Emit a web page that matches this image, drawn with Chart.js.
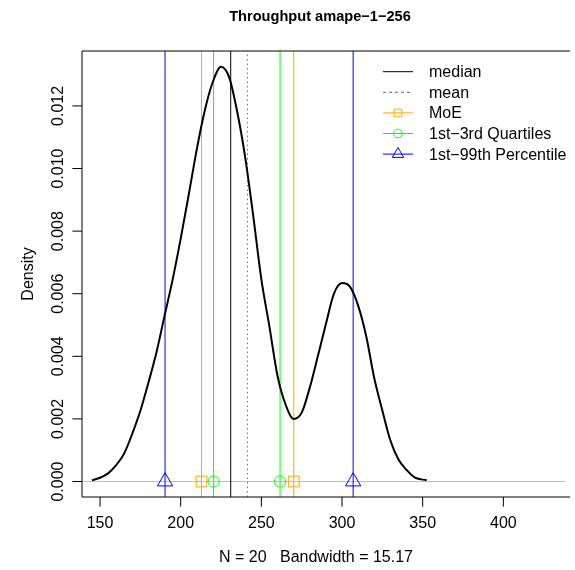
<!DOCTYPE html>
<html>
<head>
<meta charset="utf-8">
<script src="https://cdn.jsdelivr.net/npm/chart.js@4/dist/chart.umd.min.js"></script>
<style>
  html, body { margin: 0; padding: 0; background: #fff; overflow: hidden; }
</style>
</head>
<body>
<canvas id="densityChart" width="575" height="570"></canvas>
<script>
// density curve
const densX = [145, 150, 155, 160, 165, 170, 175, 180, 185, 190, 195, 200, 205, 210, 215, 220, 225, 230,
  235, 240, 245, 250, 255, 260, 265, 270, 275, 280, 285, 290, 295, 300, 305, 310, 315, 320, 325, 330,
  335, 340, 345, 352.5];
const densY = [0.00004, 0.00012, 0.00026, 0.00052, 0.0009, 0.00153, 0.00226, 0.00316, 0.00413, 0.0053,
  0.00645, 0.00776, 0.00917, 0.01062, 0.01187, 0.01278, 0.01325, 0.01292, 0.01182, 0.01035, 0.00847,
  0.00646, 0.00495, 0.00338, 0.00246, 0.002, 0.0022, 0.003, 0.004, 0.00503, 0.006, 0.00634, 0.00622,
  0.00562, 0.00464, 0.0033, 0.00227, 0.00131, 0.0007, 0.00037, 0.00013, 0.00004];

// summary statistics
const medianVal = 231.0;
const meanVal = 241.4;
const moeVals = [212.9, 270.1];
const quartileVals = [220.4, 261.6];
const percentileVals = [190.3, 306.9];

// axes
const xTicks = [150, 200, 250, 300, 350, 400];
const yTicks = [0, 0.002, 0.004, 0.006, 0.008, 0.010, 0.012];
const yTickLabels = ['0.000', '0.002', '0.004', '0.006', '0.008', '0.010', '0.012'];
const xMin = 138.82, xMax = 438.34;
const yMin = -0.000495, yMax = 0.013755;

const titleText = 'Throughput amape\u22121\u2212256';
const xLabel = 'N = 20   Bandwidth = 15.17';
const yLabel = 'Density';

const legendLabels = ['median', 'mean', 'MoE', '1st\u22123rd Quartiles', '1st\u221299th Percentile'];
const legendColors = ['#000000', '#666666', '#FFA500', '#00FF00', '#0000FF'];
const legendDash = [[], [3, 3], [], [], []];
const legendMarks = [null, null, 'rect', 'circle', 'triangle'];

const FONT = '"Liberation Sans", Arial, Helvetica, sans-serif';
const TEXT_CX = 320; // centre of title / x label

function vline(v, color, dash) {
  return {
    data: [{x: v, y: yMin}, {x: v, y: yMax}],
    showLine: true, borderColor: color, borderWidth: 1, borderDash: dash || [],
    pointRadius: 0, order: 5
  };
}

function marks(vals, color, style, radius) {
  return {
    data: vals.map(v => ({x: v, y: 0})),
    showLine: false, pointStyle: style, pointRadius: radius, pointHoverRadius: radius,
    pointBorderColor: color, pointBackgroundColor: 'rgba(0,0,0,0)', pointBorderWidth: 1, order: 1
  };
}

const datasets = [
  {
    data: densX.map((x, i) => ({x: x, y: densY[i]})),
    showLine: true, borderColor: '#000', borderWidth: 2, pointRadius: 0,
    cubicInterpolationMode: 'monotone', order: 2
  },
  {
    data: [{x: xMin, y: 0}, {x: xMax, y: 0}],
    showLine: true, borderColor: '#BEBEBE', borderWidth: 1, pointRadius: 0, order: 6
  },
  vline(medianVal, '#000000'),
  vline(meanVal, '#777777', [1.5, 3]),
  vline(moeVals[0], '#FFA500'), vline(moeVals[1], '#FFA500'),
  vline(quartileVals[0], '#00FF00'), vline(quartileVals[1], '#00FF00'),
  vline(percentileVals[0], '#0000FF'), vline(percentileVals[1], '#0000FF'),
  marks(moeVals, '#FFA500', 'rect', 7.6),
  marks(quartileVals, '#00FF00', 'circle', 5.6),
  marks(percentileVals, '#0000FF', 'triangle', 8.8)
];

// legend symbols are a bit smaller than the ones on the plot
function drawMark(ctx, style, x, y, color) {
  ctx.save();
  ctx.strokeStyle = color;
  ctx.lineWidth = 1;
  ctx.beginPath();
  if (style === 'rect') {
    const s = 3.8;
    ctx.rect(x - s, y - s, 2 * s, 2 * s);
  } else if (style === 'circle') {
    ctx.arc(x, y, 4.3, 0, Math.PI * 2);
  } else if (style === 'triangle') {
    const r = 6.6;
    ctx.moveTo(x, y - r);
    ctx.lineTo(x + r * Math.sin(Math.PI * 2 / 3), y + r * 0.5);
    ctx.lineTo(x - r * Math.sin(Math.PI * 2 / 3), y + r * 0.5);
    ctx.closePath();
  }
  ctx.stroke();
  ctx.restore();
}

// R-style box (right side runs off the canvas), axes, labels and legend
const rDecor = {
  id: 'rDecor',
  afterDraw(chart) {
    const ctx = chart.ctx;
    const a = chart.chartArea;
    const xs = chart.scales.x, ys = chart.scales.y;
    ctx.save();
    ctx.strokeStyle = '#000';
    ctx.fillStyle = '#000';
    ctx.lineWidth = 1;
    ctx.beginPath();
    ctx.moveTo(a.right + 5, a.top); ctx.lineTo(a.left, a.top);
    ctx.lineTo(a.left, a.bottom); ctx.lineTo(a.right + 5, a.bottom);
    xTicks.forEach(t => {
      const px = xs.getPixelForValue(t);
      ctx.moveTo(px, a.bottom); ctx.lineTo(px, a.bottom + 9.6);
    });
    yTicks.forEach(t => {
      const py = ys.getPixelForValue(t);
      ctx.moveTo(a.left, py); ctx.lineTo(a.left - 9.6, py);
    });
    ctx.stroke();

    ctx.font = '16px ' + FONT;
    ctx.textAlign = 'center';
    ctx.textBaseline = 'alphabetic';
    xTicks.forEach(t => ctx.fillText(String(t), xs.getPixelForValue(t), 528));
    yTicks.forEach((t, i) => {
      ctx.save();
      ctx.translate(63, ys.getPixelForValue(t));
      ctx.rotate(-Math.PI / 2);
      ctx.fillText(yTickLabels[i], 0, 0);
      ctx.restore();
    });
    ctx.fillText(xLabel, TEXT_CX - 4, 562);
    ctx.save();
    ctx.translate(33, (a.top + a.bottom) / 2);
    ctx.rotate(-Math.PI / 2);
    ctx.fillText(yLabel, 0, 0);
    ctx.restore();

    ctx.font = 'bold 14.6px ' + FONT;
    ctx.fillText(titleText, TEXT_CX, 21);

    // legend
    ctx.font = '16px ' + FONT;
    ctx.textAlign = 'left';
    ctx.textBaseline = 'middle';
    legendLabels.forEach((lab, i) => {
      const y = 71.7 + i * 20.6;
      ctx.save();
      ctx.strokeStyle = legendColors[i];
      ctx.setLineDash(legendDash[i]);
      ctx.beginPath();
      ctx.moveTo(383, y); ctx.lineTo(413, y);
      ctx.stroke();
      ctx.restore();
      if (legendMarks[i]) drawMark(ctx, legendMarks[i], 398, y, legendColors[i]);
      ctx.fillStyle = '#000';
      ctx.fillText(lab, 429, y + 1);
    });
    ctx.restore();
  }
};

new Chart(document.getElementById('densityChart'), {
  type: 'scatter',
  data: { datasets: datasets },
  options: {
    responsive: false,
    devicePixelRatio: 1,
    animation: false,
    layout: { padding: { left: 82, top: 51, right: 0, bottom: 73 } },
    plugins: { legend: { display: false }, tooltip: { enabled: false }, title: { display: false } },
    scales: {
      x: { type: 'linear', min: xMin, max: xMax, display: false },
      y: { type: 'linear', min: yMin, max: yMax, display: false }
    }
  },
  plugins: [rDecor]
});
</script>
</body>
</html>
